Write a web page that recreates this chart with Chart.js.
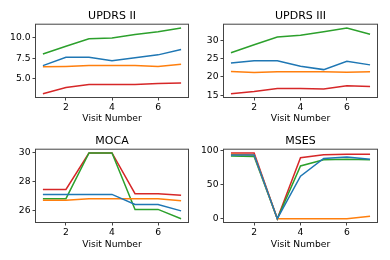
<!DOCTYPE html>
<html>
<head>
<meta charset="utf-8">
<script src="https://cdn.jsdelivr.net/npm/chart.js@4.4.0/dist/chart.umd.min.js"></script>
<style>
  body { margin: 0; background: #fff; }
  #wrap { position: relative; width: 390px; height: 260px; overflow: hidden; }
  canvas { position: absolute; }
</style>
</head>
<body>
<div id="wrap">
  <canvas id="updrs2" width="195" height="130" style="left:0;top:0"></canvas>
  <canvas id="updrs3" width="195" height="130" style="left:195px;top:0"></canvas>
  <canvas id="moca" width="195" height="130" style="left:0;top:130px"></canvas>
  <canvas id="mses" width="195" height="130" style="left:195px;top:130px"></canvas>
</div>
<script>
// Visits on the x axis
const visits = [1, 2, 3, 4, 5, 6, 7];
const xTicks = [2, 4, 6];

// UPDRS II
const updrs2Blue = [6.6, 7.6, 7.6, 7.2, 7.55, 7.9, 8.55];
const updrs2Orange = [6.45, 6.5, 6.6, 6.6, 6.6, 6.5, 6.75];
const updrs2Green = [8.0, 8.95, 9.85, 9.95, 10.35, 10.7, 11.15];
const updrs2Red = [3.2, 3.95, 4.3, 4.3, 4.3, 4.45, 4.5];
const updrs2Ticks = [5, 7.5, 10];
const updrs2TickLabels = ['5.0', '7.5', '10.0'];

// UPDRS III
const updrs3Blue = [23.8, 24.4, 24.4, 22.9, 22.0, 24.3, 23.3];
const updrs3Orange = [21.5, 21.2, 21.4, 21.4, 21.4, 21.3, 21.4];
const updrs3Green = [26.6, 28.8, 30.9, 31.4, 32.4, 33.4, 31.7];
const updrs3Red = [15.4, 16.0, 16.8, 16.8, 16.7, 17.6, 17.4];
const updrs3Ticks = [15, 20, 25, 30];
const updrs3TickLabels = ['15', '20', '25', '30'];

// MOCA
const mocaBlue = [27.1, 27.1, 27.1, 27.1, 26.4, 26.4, 25.95];
const mocaOrange = [26.7, 26.7, 26.8, 26.8, 26.8, 26.8, 26.65];
const mocaGreen = [26.8, 26.8, 30, 30, 26.05, 26.05, 25.4];
const mocaRed = [27.45, 27.45, 30, 30, 27.15, 27.15, 27.05];
const mocaTicks = [26, 28, 30];
const mocaTickLabels = ['26', '28', '30'];

// MSES
const msesBlue = [93, 93, 0, 62, 88, 90, 87];
const msesOrange = [94, 93, 0, 0, 0, 0, 3.5];
const msesGreen = [91.5, 91, 0, 77, 86, 87, 86];
const msesRed = [96, 96, 0, 89, 93.5, 94, 94];
const msesTicks = [0, 50, 100];
const msesTickLabels = ['0', '50', '100'];

const lineColors = ['#1f77b4', '#ff7f0e', '#2ca02c', '#d62728'];

const fontFamily = '"DejaVu Sans", sans-serif';
const frameColor = '#444';

// Draws the box round the plot area
const framePlugin = {
  id: 'frame',
  afterDatasetsDraw(chart) {
    const { ctx, chartArea: a } = chart;
    ctx.save();
    ctx.strokeStyle = frameColor;
    ctx.lineWidth = 1;
    ctx.strokeRect(a.left - 0.5, a.top - 0.5, a.right - a.left + 1, a.bottom - a.top + 1);
    ctx.restore();
  }
};

function makeChart(id, title, series, yTicks, yTickLabels, box) {
  const all = series.flat();
  const lo = Math.min(...all);
  const hi = Math.max(...all);
  const pad = (hi - lo) * 0.05;

  const datasets = series.map((values, i) => ({
    data: visits.map((v, j) => ({ x: v, y: values[j] })),
    borderColor: lineColors[i],
    borderWidth: 1.5,
    pointRadius: 0,
    tension: 0,
    fill: false,
  }));

  new Chart(document.getElementById(id), {
    type: 'line',
    data: { datasets },
    plugins: [framePlugin],
    options: {
      responsive: false,
      animation: false,
      devicePixelRatio: 1,
      layout: { padding: { left: 0, right: box.padRight, top: 0, bottom: 0 } },
      plugins: {
        legend: { display: false },
        tooltip: { enabled: false },
        title: {
          display: true,
          fullSize: false, // centre over the plot area, as matplotlib does
          text: title,
          color: '#000',
          font: { family: fontFamily, size: 11, weight: 'normal' },
          padding: { top: box.titleTop, bottom: 2 },
        },
      },
      scales: {
        x: {
          type: 'linear',
          min: 0.7,
          max: 7.3,
          afterBuildTicks: (scale) => { scale.ticks = xTicks.map((v) => ({ value: v })); },
          afterFit: (scale) => { scale.height = box.xHeight; },
          ticks: {
            autoSkip: false,
            maxRotation: 0,
            padding: 2,
            color: '#000',
            font: { family: fontFamily, size: 9.2 },
            callback: (value) => String(value),
          },
          grid: { drawOnChartArea: false, drawTicks: true, tickLength: 3.5, color: frameColor },
          border: { display: false },
          title: {
            display: true,
            text: 'Visit Number',
            color: '#000',
            font: { family: fontFamily, size: 9.2 },
            padding: { top: 0, bottom: box.xTitleBottom },
          },
        },
        y: {
          type: 'linear',
          min: lo - pad,
          max: hi + pad,
          afterBuildTicks: (scale) => { scale.ticks = yTicks.map((v) => ({ value: v })); },
          afterFit: (scale) => { scale.width = box.yWidth; },
          ticks: {
            autoSkip: false,
            padding: 2,
            color: '#000',
            font: { family: fontFamily, size: 9.2 },
            callback: (value, index) => yTickLabels[index],
          },
          grid: { drawOnChartArea: false, drawTicks: true, tickLength: 3.5, color: frameColor },
          border: { display: false },
        },
      },
    },
  });
}

makeChart('updrs2', 'UPDRS II', [updrs2Blue, updrs2Orange, updrs2Green, updrs2Red],
  updrs2Ticks, updrs2TickLabels,
  { yWidth: 36, padRight: 7, xHeight: 33, titleTop: 9.5, xTitleBottom: 5.5 });

makeChart('updrs3', 'UPDRS III', [updrs3Blue, updrs3Orange, updrs3Green, updrs3Red],
  updrs3Ticks, updrs3TickLabels,
  { yWidth: 29, padRight: 13, xHeight: 33, titleTop: 9.5, xTitleBottom: 5.5 });

makeChart('moca', 'MOCA', [mocaBlue, mocaOrange, mocaGreen, mocaRed],
  mocaTicks, mocaTickLabels,
  { yWidth: 36, padRight: 7, xHeight: 38, titleTop: 4.5, xTitleBottom: 9.5 });

makeChart('mses', 'MSES', [msesBlue, msesOrange, msesGreen, msesRed],
  msesTicks, msesTickLabels,
  { yWidth: 29, padRight: 13, xHeight: 38, titleTop: 4.5, xTitleBottom: 9.5 });
</script>
</body>
</html>
